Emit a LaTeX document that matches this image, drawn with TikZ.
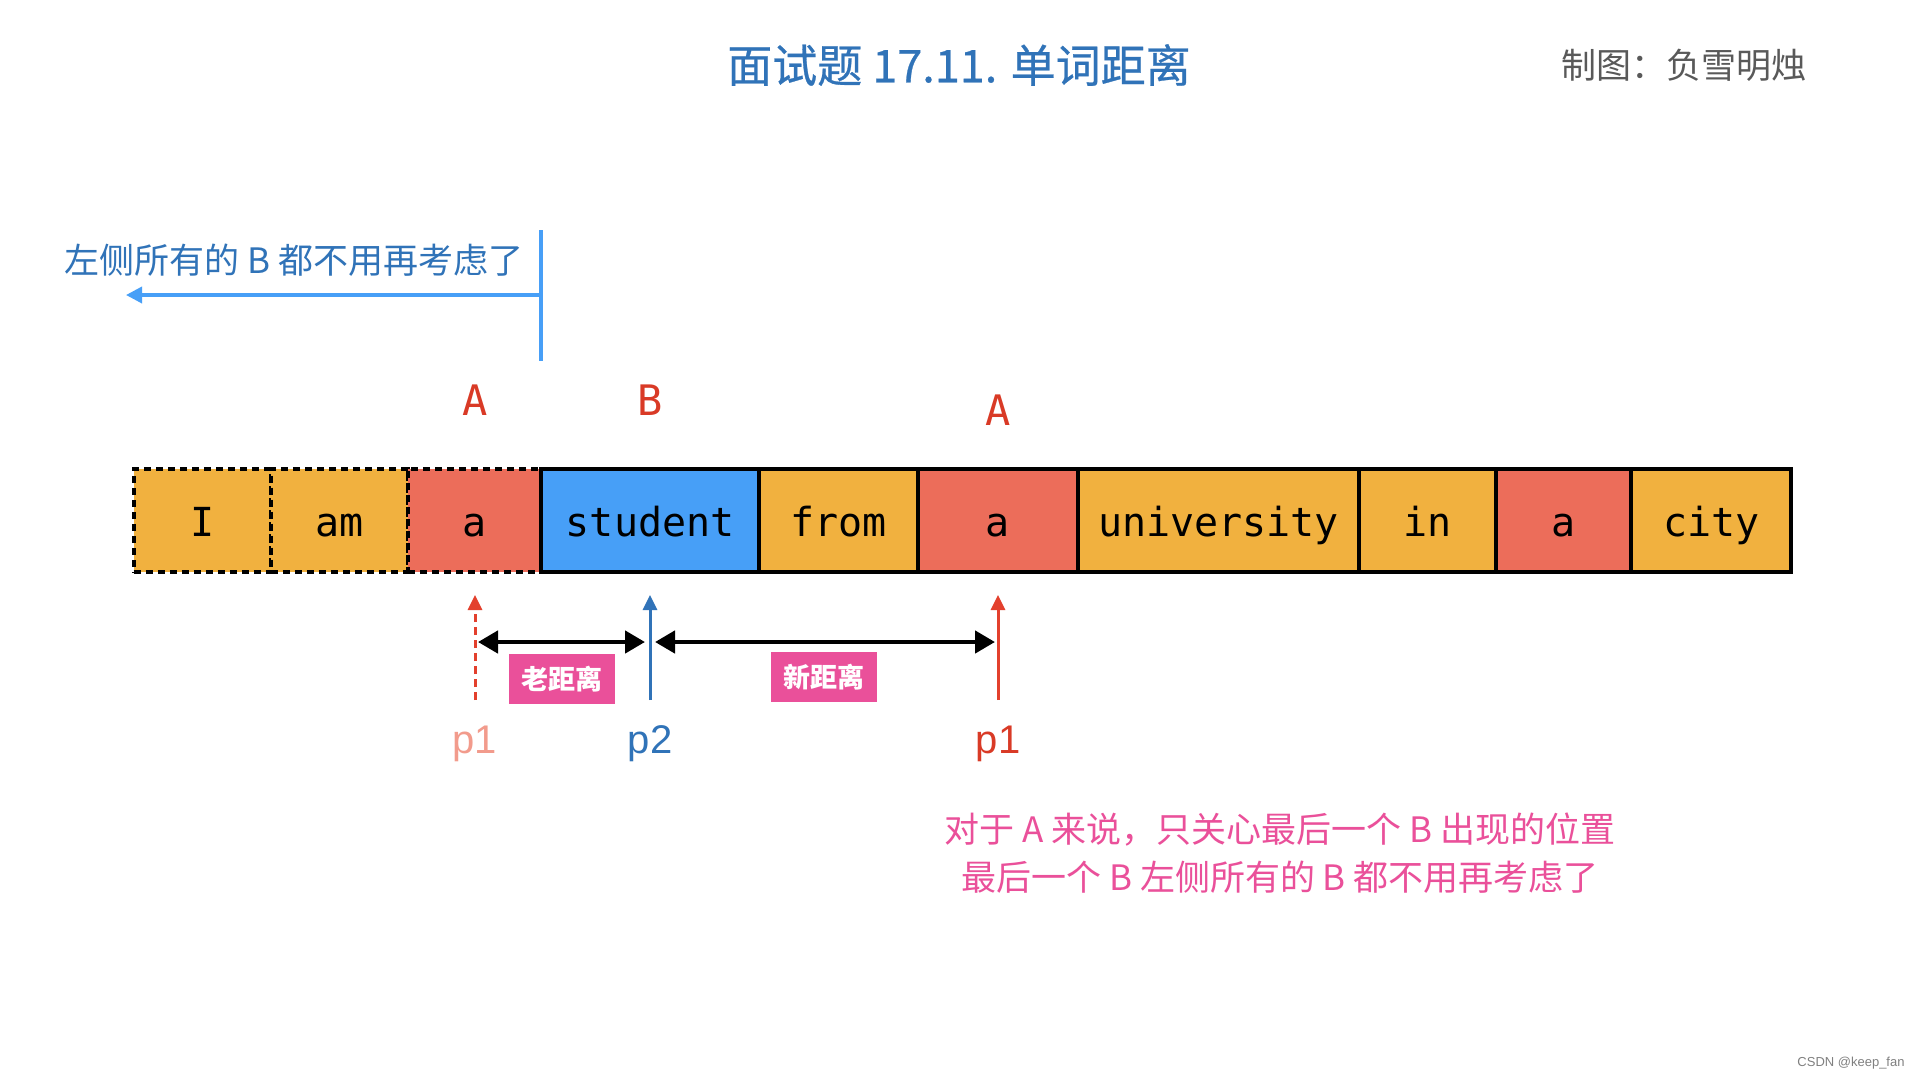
\documentclass[tikz,border=0pt]{standalone}
\usepackage{fontspec}
\newfontfamily\cjk{Noto Sans CJK SC}
\newfontfamily\cjkmed[FakeBold=0.6]{Noto Sans CJK SC}
\newfontfamily\mono{DejaVu Sans Mono}
\newfontfamily\lsans{Liberation Sans}
\usetikzlibrary{arrows.meta}
\definecolor{orng}{HTML}{F1B13F}
\definecolor{redc}{HTML}{EC6D5A}
\definecolor{bluec}{HTML}{479FF7}
\definecolor{titleblue}{HTML}{3073B8}
\definecolor{lblred}{HTML}{D93A26}
\definecolor{salmon}{HTML}{F29B8C}
\definecolor{pinkc}{HTML}{EA509A}
\definecolor{linered}{HTML}{E3402D}
\definecolor{graytxt}{HTML}{595959}
\tikzset{
  wbox/.style={draw=black, line width=4pt, minimum height=103pt, inner sep=0pt,
    text height=35pt, text depth=3pt, font=\mono\fontsize{40}{40}\selectfont},
  dbox/.style={wbox, dash pattern=on 7pt off 5pt},
  letter/.style={text=lblred, font=\mono\fontsize{42}{42}\selectfont},
  plabel/.style={font=\lsans\fontsize{40}{40}\selectfont},
  distlabel/.style={fill=pinkc, text=white, minimum width=106pt, minimum height=50pt,
    inner sep=0pt, font=\cjk\bfseries\fontsize{27}{27}\selectfont},
  dblarrow/.style={line width=4.5pt, {Triangle[length=20pt,width=22pt]}-{Triangle[length=20pt,width=22pt]}},
  uparrow/.style={line width=3pt, -{Triangle[length=15pt,width=14pt]}},
  note/.style={font=\cjk\fontsize{35}{48}\selectfont, align=center}
}
\begin{document}
\begin{tikzpicture}[x=1pt,y=-1pt]
\useasboundingbox[fill=white] (0,0) rectangle (1920,1080);

% title and author
\node[text=titleblue, font=\cjkmed\fontsize{45}{45}\selectfont] (title) at (959,65) {面试题 17.11. 单词距离};
\node[text=graytxt, font=\cjk\fontsize{35}{35}\selectfont] (author) at (1684,65) {制图：负雪明烛};

% word boxes
\node[dbox, fill=orng, minimum width=137.1pt] (w1) at (202.05,520.5) {I};
\node[dbox, fill=orng, minimum width=137.2pt] (w2) at (339.2,520.5) {am};
\node[dbox, fill=redc, minimum width=133.4pt] (w3) at (474.5,520.5) {a};
\node[wbox, fill=bluec, minimum width=218pt] (w4) at (650.2,520.5) {student};
\node[wbox, fill=orng, minimum width=159.2pt] (w5) at (838.8,520.5) {from};
\node[wbox, fill=redc, minimum width=159.2pt] (w6) at (998,520.5) {a};
\node[wbox, fill=orng, minimum width=281.6pt] (w7) at (1218.4,520.5) {university};
\node[wbox, fill=orng, minimum width=137.2pt] (w8) at (1427.8,520.5) {in};
\node[wbox, fill=redc, minimum width=134.6pt] (w9) at (1563.7,520.5) {a};
\node[wbox, fill=orng, minimum width=160.4pt] (w10) at (1711.2,520.5) {city};

% A / B labels
\node[letter] (la1) at (475,400) {A};
\node[letter] (lb) at (650,400) {B};
\node[letter] (la2) at (998,410) {A};

% left boundary and note
\coordinate (vtop) at (541,230);
\coordinate (vbot) at (541,361);
\coordinate (hstart) at (541,295);
\coordinate (hend) at (126,295);
\draw[bluec, line width=3.5pt] (vtop) -- (vbot);
\draw[bluec, line width=3.5pt, -{Triangle[length=16pt,width=16pt]}] (hstart) -- (hend);
\node[text=titleblue, font=\cjk\fontsize{35}{35}\selectfont] (leftnote) at (294,260) {左侧所有的 B 都不用再考虑了};

% pointer arrows
\coordinate (p1ob) at (475,700);
\coordinate (p1ot) at (475,595);
\coordinate (p2b) at (650,700);
\coordinate (p2t) at (650,595);
\coordinate (p1nb) at (998,700);
\coordinate (p1nt) at (998,595);
\draw[linered, uparrow, dash pattern=on 8pt off 5pt] (p1ob) -- (p1ot);
\draw[titleblue, uparrow] (p2b) -- (p2t);
\draw[linered, uparrow] (p1nb) -- (p1nt);

\coordinate (d1l) at (478,642);
\coordinate (d1r) at (645,642);
\coordinate (d2l) at (655,642);
\coordinate (d2r) at (995,642);
\draw[dblarrow] (d1l) -- (d1r);
\draw[dblarrow] (d2l) -- (d2r);

\node[distlabel] (old) at (562,679) {老距离};
\node[distlabel] (new) at (824,677) {新距离};

\node[plabel, text=salmon] (p1o) at (475,744) {p1};
\node[plabel, text=titleblue] (p2) at (650,744) {p2};
\node[plabel, text=lblred] (p1n) at (998,744) {p1};

% bottom note
\node[note, text=pinkc] (bottomnote) at (1280,853) {对于 A 来说，只关心最后一个 B 出现的位置\\最后一个 B 左侧所有的 B 都不用再考虑了};

% watermark
\node[text=gray, font=\lsans\fontsize{13}{13}\selectfont] (wm) at (1851,1063) {CSDN @keep\_fan};
\end{tikzpicture}
\end{document}
